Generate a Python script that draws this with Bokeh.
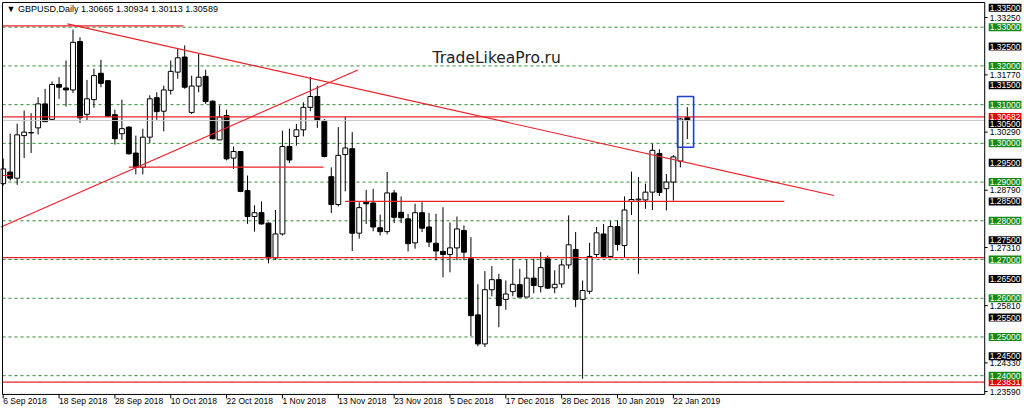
from bokeh.plotting import figure
from bokeh.models import Label, ColumnDataSource, Range1d
from bokeh.embed import file_html
from bokeh.resources import INLINE

# ---------------- data ----------------
title_text = "\u25BC GBPUSD,Daily  1.30665 1.30934 1.30113 1.30589"
watermark = "TradeLikeaPro.ru"

opens = [1.2896, 1.2926, 1.2910, 1.3020, 1.3027, 1.3040, 1.3102, 1.3062, 1.3152, 1.3143,
         1.3138, 1.3263, 1.3075, 1.3113, 1.3181, 1.3162, 1.3074, 1.3025, 1.3042, 1.2975,
         1.2938, 1.3016, 1.3118, 1.3083, 1.3137, 1.3184, 1.3223, 1.3080, 1.3148, 1.3173,
         1.3109, 1.3009, 1.3072, 1.2962, 1.2979, 1.2878, 1.2811, 1.2821, 1.2794, 1.2704,
         1.2766, 1.2992, 1.3018, 1.3035, 1.3093, 1.3121, 1.3057, 1.2914, 1.2842, 1.2971,
         1.2986, 1.2768, 1.2848, 1.2846, 1.2782, 1.2772, 1.2872, 1.2822, 1.2805, 1.2743,
         1.2821, 1.2784, 1.2742, 1.2721, 1.2713, 1.2730, 1.2775, 1.2702, 1.2557, 1.2482,
         1.2622, 1.2648, 1.2597, 1.2617, 1.2635, 1.2603, 1.2652, 1.2630, 1.2702, 1.2627,
         1.2637, 1.2686, 1.2726, 1.2597, 1.2618, 1.2713, 1.2766, 1.2708, 1.2785, 1.2736,
         1.2850, 1.2854, 1.2854, 1.2874, 1.2974, 1.2883, 1.2900, 1.2954, 1.30665]
highs = [1.2961, 1.3025, 1.3051, 1.3085, 1.3078, 1.3119, 1.3141, 1.3160, 1.3171, 1.3214,
         1.3294, 1.3274, 1.3164, 1.3193, 1.3216, 1.3162, 1.3087, 1.3113, 1.3044, 1.3020,
         1.3038, 1.3124, 1.3132, 1.3149, 1.3214, 1.3244, 1.3253, 1.3175, 1.3231, 1.3190,
         1.3111, 1.3098, 1.3087, 1.2992, 1.2979, 1.2917, 1.2840, 1.2850, 1.2796, 1.2828,
         1.3033, 1.3038, 1.3050, 1.3106, 1.3171, 1.3149, 1.3063, 1.2938, 1.3042, 1.3069,
         1.3029, 1.2848, 1.2880, 1.2883, 1.2816, 1.2926, 1.2880, 1.2863, 1.2818, 1.2844,
         1.2848, 1.2820, 1.2818, 1.2835, 1.2796, 1.2811, 1.2788, 1.2758, 1.2636, 1.2670,
         1.2683, 1.2663, 1.2646, 1.2702, 1.2676, 1.2700, 1.2702, 1.2719, 1.2710, 1.2672,
         1.2698, 1.2814, 1.2771, 1.2646, 1.2743, 1.2784, 1.2792, 1.2799, 1.2801, 1.2863,
         1.2927, 1.2913, 1.2896, 1.2999, 1.2985, 1.2921, 1.2970, 1.3066, 1.30934]
lows = [1.2891, 1.2904, 1.2893, 1.2962, 1.2975, 1.3023, 1.3055, 1.3059, 1.3115, 1.3095,
        1.3130, 1.3053, 1.3059, 1.3092, 1.3145, 1.3068, 1.2997, 1.3009, 1.2971, 1.2920,
        1.2920, 1.3000, 1.3061, 1.3031, 1.3126, 1.3167, 1.3141, 1.3076, 1.3132, 1.3102,
        1.3010, 1.3009, 1.2956, 1.2934, 1.2874, 1.2792, 1.2772, 1.2790, 1.2690, 1.2699,
        1.2762, 1.2949, 1.2994, 1.3018, 1.3083, 1.3040, 1.2964, 1.2820, 1.2837, 1.2876,
        1.2722, 1.2754, 1.2792, 1.2773, 1.2762, 1.2765, 1.2794, 1.2794, 1.2721, 1.2728,
        1.2771, 1.2732, 1.2698, 1.2654, 1.2667, 1.2698, 1.2698, 1.2502, 1.2476, 1.2474,
        1.2605, 1.2525, 1.2570, 1.2605, 1.2603, 1.2603, 1.2613, 1.2615, 1.2624, 1.2613,
        1.2627, 1.2676, 1.2577, 1.2392, 1.2611, 1.2706, 1.2704, 1.2704, 1.2723, 1.2704,
        1.2815, 1.2663, 1.2831, 1.2828, 1.2864, 1.2827, 1.2852, 1.2938, 1.30113]
closes = [1.2934, 1.2910, 1.3022, 1.3029, 1.3028, 1.3102, 1.3056, 1.3152, 1.3145, 1.3138,
          1.3261, 1.3066, 1.3115, 1.3175, 1.3155, 1.3070, 1.3012, 1.3038, 1.2973, 1.2938,
          1.3016, 1.3115, 1.3082, 1.3138, 1.3186, 1.3221, 1.3145, 1.3148, 1.3171, 1.3108,
          1.3012, 1.3068, 1.2960, 1.2979, 1.2876, 1.2811, 1.2821, 1.2792, 1.2704, 1.2766,
          1.2992, 1.2957, 1.3035, 1.3093, 1.3121, 1.3059, 1.2966, 1.2842, 1.2969, 1.2988,
          1.2768, 1.2834, 1.2844, 1.2784, 1.2772, 1.2872, 1.2809, 1.2808, 1.2741, 1.2821,
          1.2781, 1.2745, 1.2722, 1.2713, 1.2730, 1.2779, 1.2719, 1.2555, 1.2482, 1.2622,
          1.2648, 1.2581, 1.2611, 1.2636, 1.2603, 1.2652, 1.2633, 1.2679, 1.2626, 1.2636,
          1.2686, 1.2738, 1.2597, 1.2620, 1.2708, 1.2769, 1.2708, 1.2785, 1.2739, 1.2828,
          1.2855, 1.2856, 1.2874, 1.2982, 1.2873, 1.2900, 1.2965, 1.3063, 1.30589]

date_ticks = [0, 8, 16, 24, 32, 40, 48, 56, 64, 72, 80, 88, 96]
date_labels = ["6 Sep 2018", "18 Sep 2018", "28 Sep 2018", "10 Oct 2018", "22 Oct 2018",
               "1 Nov 2018", "13 Nov 2018", "23 Nov 2018", "5 Dec 2018", "17 Dec 2018",
               "28 Dec 2018", "10 Jan 2019", "22 Jan 2019"]

axis_ticks = [1.3325, 1.3177, 1.3029, 1.2879, 1.2731, 1.2581, 1.2433, 1.2359]
green_levels = [1.33, 1.32, 1.31, 1.30, 1.29, 1.28, 1.27, 1.26, 1.25, 1.24]
black_levels = [1.335, 1.325, 1.315, 1.305, 1.295, 1.285, 1.275, 1.265, 1.255, 1.245]
red_levels = [1.30682, 1.23831]
bid_price = 1.30589

red_full = [1.30682, 1.2705, 1.23831]
hseg_x0 = [-0.1, 18.0, 49.0, -0.1]
hseg_x1 = [25.8, 45.9, 111.9, 1.0]
hseg_y = [1.33036, 1.29384, 1.2850, 1.2917]
trend_x0 = [9.2, -0.4]
trend_y0 = [1.33088, 1.27835]
trend_x1 = [119.0, 50.8]
trend_y1 = [1.28653, 1.31895]
box_bars = [96.6, 98.9]
box_prices = [1.2990, 1.3121]

# ---------------- layout constants ----------------
W, H = 1024, 413
XR = (-0.387, 146.3)          # whole canvas in bar units
YR = (1.23023, 1.33690)       # whole canvas in price units
FL, FR = -0.1, 140.6          # chart frame left / right
FB, FT = 1.23515, 1.33638     # chart frame bottom / top
PX_X = (XR[1] - XR[0]) / W    # one pixel in bar units
PX_Y = (YR[1] - YR[0]) / H    # one pixel in price units
FONT = "Liberation Sans"
RED = "#e8232a"

p = figure(width=W, height=H, output_backend="svg", toolbar_location=None,
           x_range=Range1d(*XR), y_range=Range1d(*YR),
           x_axis_location=None, y_axis_location=None,
           min_border=0)
p.outline_line_color = None
p.xgrid.visible = False
p.ygrid.visible = False
p.background_fill_color = "white"
p.border_fill_color = "white"

# dashed green level lines inside the chart frame
n = len(green_levels)
p.segment(x0=[FL] * n, y0=green_levels, x1=[FR] * n, y1=green_levels,
          line_color="#2e8b2e", line_dash="3 3", line_width=1)

# candles
idx = list(range(len(opens)))
tops = [max(o, c) for o, c in zip(opens, closes)]
bots = [min(o, c) for o, c in zip(opens, closes)]
fills = ["white" if c >= o else "black" for o, c in zip(opens, closes)]
src = ColumnDataSource(dict(idx=idx, high=highs, low=lows, top=tops, bottom=bots, fill=fills))
p.segment(x0="idx", y0="low", x1="idx", y1="high", source=src, line_color="black", line_width=1)
p.vbar(x="idx", width=0.7, top="top", bottom="bottom", fill_color="fill",
       line_color="black", line_width=1, source=src)

# bid line
p.segment(x0=[FL], y0=[bid_price], x1=[FR], y1=[bid_price], line_color="#c8c8c8", line_width=1)
# red full-width levels
m = len(red_full)
p.segment(x0=[FL] * m, y0=red_full, x1=[FR] * m, y1=red_full, line_color=RED, line_width=1.3)
# red partial segments and trend lines
p.segment(x0=hseg_x0, y0=hseg_y, x1=hseg_x1, y1=hseg_y, line_color=RED, line_width=1.2)
p.segment(x0=trend_x0, y0=trend_y0, x1=trend_x1, y1=trend_y1, line_color=RED, line_width=1.2)

# blue box
p.quad(left=[box_bars[0]], right=[box_bars[1]], bottom=[box_prices[0]], top=[box_prices[1]],
       fill_alpha=0, line_color="#1f3fd6", line_width=1.6)

# chart frame
p.quad(left=[FL], right=[FR], bottom=[FB], top=[FT], fill_alpha=0,
       line_color="black", line_width=1)

# right price scale: plain ticks
k = len(axis_ticks)
p.segment(x0=[FR] * k, y0=axis_ticks, x1=[FR + 3 * PX_X] * k, y1=axis_ticks,
          line_color="black", line_width=1)
for lv in axis_ticks:
    p.add_layout(Label(x=FR, y=lv, text=f"{lv:.5f}", x_offset=5,
                       text_align="left", text_baseline="middle",
                       text_font=FONT, text_font_size="8.5px", text_color="black"))

def price_box(level, bg):
    p.add_layout(Label(x=FR, y=level, text=f"{level:.5f}", x_offset=4,
                       text_align="left", text_baseline="middle",
                       text_font=FONT, text_font_size="8.5px", text_color="white",
                       background_fill_color=bg, padding=1))

for lv in red_levels:
    price_box(lv, "#e00000")
for lv in black_levels:
    price_box(lv, "black")
for lv in green_levels:
    price_box(lv, "#148a14")

# bottom time scale
t = len(date_ticks)
p.segment(x0=date_ticks, y0=[FB] * t, x1=date_ticks, y1=[FB - 4 * PX_Y] * t,
          line_color="black", line_width=1)
for tk, s in zip(date_ticks, date_labels):
    p.add_layout(Label(x=tk, y=FB, text=s, y_offset=-2, text_align="left",
                       text_baseline="top", text_font=FONT, text_font_size="8.5px",
                       text_color="black"))

# title and watermark
p.add_layout(Label(x=FL, y=FT, text=title_text, x_offset=4, y_offset=-1,
                   text_align="left", text_baseline="top", text_font=FONT,
                   text_font_size="9px", text_color="black"))
p.add_layout(Label(x=61.5, y=1.32217, text=watermark, text_align="left",
                   text_baseline="middle", text_font="DejaVu Sans",
                   text_font_size="15.5px", text_color="#222222"))

open("out.html", "w").write(file_html(p, INLINE))
